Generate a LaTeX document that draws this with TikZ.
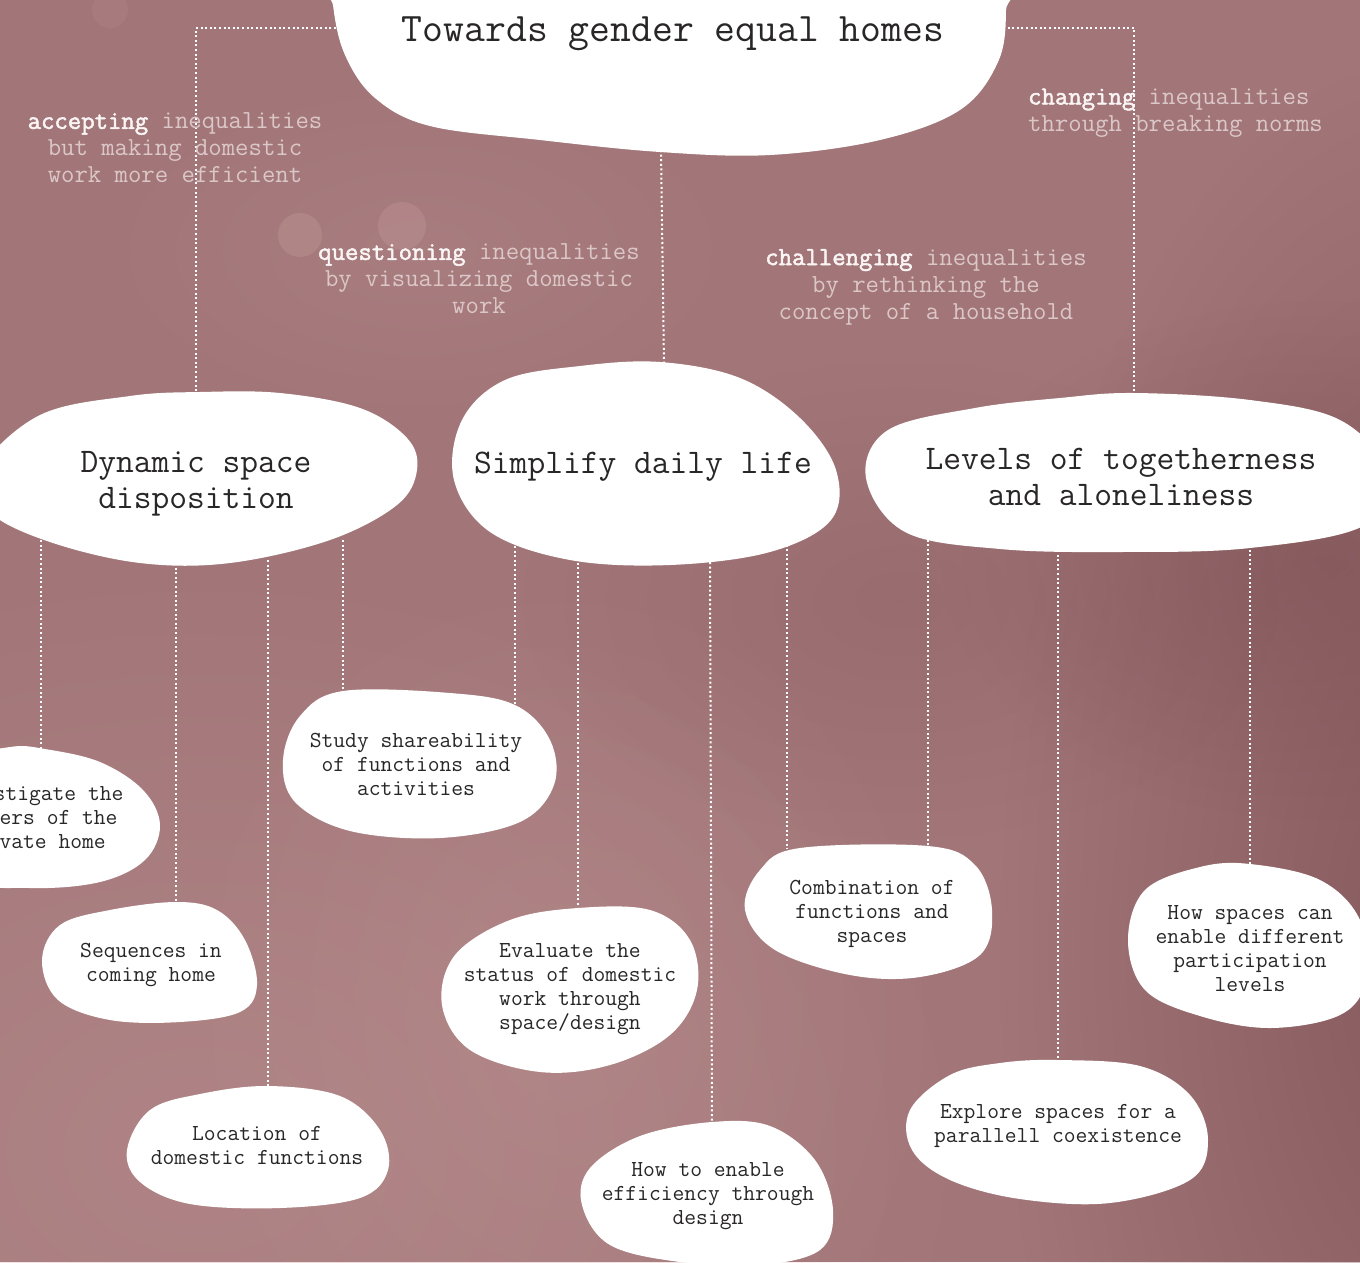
\documentclass[tikz,border=0pt]{standalone}
\usepackage{fontspec}
\setmainfont{Latin Modern Mono}
\newfontfamily\boldmono{Latin Modern Mono}[FakeBold=2]
\usetikzlibrary{fadings}
\tikzfading[name=softspot, inner color=transparent!0, outer color=transparent!100]
\definecolor{bg}{RGB}{162,118,120}
\definecolor{bglight}{RGB}{196,154,155}
\definecolor{bgdark}{RGB}{112,68,72}
\definecolor{ink}{RGB}{40,38,38}
\definecolor{subc}{RGB}{220,199,200}
\definecolor{subw}{RGB}{250,245,245}
\tikzset{
  blob/.style={fill=white, draw=none},
  conn/.style={white, line width=2pt, dash pattern=on 2pt off 2.6pt},
  bigtitle/.style={text=ink, align=center, inner sep=0pt, font=\fontsize{40.5}{44}\selectfont},
  title/.style={text=ink, align=center, inner sep=0pt, font=\fontsize{34.5}{36}\selectfont},
  small/.style={text=ink, align=center, inner sep=0pt, font=\fontsize{22.9}{24}\selectfont},
  sub/.style={text=subc, align=center, inner sep=0pt, font=\fontsize{26}{27}\selectfont},
  spot/.style={fill=#1, path fading=softspot, draw=none},
}
\newcommand{\firstword}[1]{{\color{subw}\boldmono #1}}
\begin{document}
\begin{tikzpicture}[x=1pt,y=-1pt]
\useasboundingbox (0,0) rectangle (1360,1262);
\clip (0,0) rectangle (1360,1262);
% background
\fill[bg] (0,0) rectangle (1360,1262);
\fill[spot=bglight, fill opacity=0.4] (200,1150) ellipse (800 and 600);
\fill[spot=bglight, fill opacity=0.3] (560,1020) ellipse (400 and 460);
\fill[spot=bgdark, fill opacity=0.55] (1440,950) ellipse (440 and 900);
\fill[spot=bgdark, fill opacity=0.35] (1320,560) ellipse (380 and 260);
\fill[spot=bgdark, fill opacity=0.18] (900,600) ellipse (380 and 240);
\fill[spot=bglight, fill opacity=0.2] (420,250) ellipse (340 and 180);
\fill[bglight, fill opacity=0.35] (300,235) circle (22);
\fill[bglight, fill opacity=0.35] (402,226) circle (24);
\fill[bglight, fill opacity=0.15] (110,10) circle (18);

% anchor coordinates
\coordinate (tL) at (336,28);
\coordinate (kL) at (196,28);
\coordinate (tR) at (1003,28);
\coordinate (kR) at (1134,28);
\coordinate (tB) at (661,150);
\coordinate (dynT) at (196,393);
\coordinate (simT) at (664,364);
\coordinate (levT) at (1134,395);
\coordinate (dynB1) at (41,540);
\coordinate (dynB2) at (176,563);
\coordinate (dynB3) at (268,560);
\coordinate (dynB4) at (343,540);
\coordinate (simB1) at (515,546);
\coordinate (simB2) at (578,558);
\coordinate (simB3) at (710,562);
\coordinate (simB4) at (787,540);
\coordinate (levB1) at (928,535);
\coordinate (levB2) at (1058,550);
\coordinate (levB3) at (1250,545);
\coordinate (invT) at (41,750);
\coordinate (seqT) at (176,905);
\coordinate (locT) at (268,1088);
\coordinate (stuT1) at (343,693);
\coordinate (stuT2) at (515,706);
\coordinate (evaT) at (578,910);
\coordinate (effT) at (712,1124);
\coordinate (comT1) at (787,849);
\coordinate (comT2) at (928,847);
\coordinate (expT) at (1058,1062);
\coordinate (parT) at (1250,866);

% connectors
\draw[conn] (tL) -- (kL) -- (dynT);
\draw[conn] (tR) -- (kR) -- (levT);
\draw[conn] (tB) -- (simT);
\draw[conn] (dynB1) -- (invT);
\draw[conn] (dynB2) -- (seqT);
\draw[conn] (dynB3) -- (locT);
\draw[conn] (dynB4) -- (stuT1);
\draw[conn] (simB1) -- (stuT2);
\draw[conn] (simB2) -- (evaT);
\draw[conn] (simB3) -- (effT);
\draw[conn] (simB4) -- (comT1);
\draw[conn] (levB1) -- (comT2);
\draw[conn] (levB2) -- (expT);
\draw[conn] (levB3) -- (parT);

% blobs
\fill[blob] plot[smooth cycle, tension=0.6] coordinates {(333,-40) (333,5) (345,55) (375,98) (430,126) (540,140) (660,152) (770,155) (880,140) (960,110) (998,62) (1006,10) (1000,-40) (670,-60)};
\fill[blob] plot[smooth cycle, tension=0.6] coordinates {(-20,470) (40,415) (130,396) (200,392) (280,393) (360,408) (407,438) (417,470) (397,505) (330,540) (230,563) (140,563) (50,542) (-10,512)};
\fill[blob] plot[smooth cycle, tension=0.6] coordinates {(660,362) (740,378) (800,418) (836,470) (831,520) (770,552) (670,565) (570,560) (490,532) (454,480) (462,420) (505,380) (580,366)};
\fill[blob] plot[smooth cycle, tension=0.6] coordinates {(1134,393) (1250,400) (1340,420) (1385,470) (1365,525) (1250,548) (1120,552) (1000,549) (905,532) (866,478) (888,430) (975,408) (1060,398)};
\fill[blob] plot[smooth cycle, tension=0.6] coordinates {(-70,810) (-40,762) (10,747) (45,749) (100,762) (143,790) (160,825) (145,860) (100,882) (30,888) (-40,878)};
\fill[blob] plot[smooth cycle, tension=0.6] coordinates {(176,902) (217,910) (245,940) (257,985) (240,1012) (180,1022) (110,1020) (58,1000) (42,960) (60,925) (110,910)};
\fill[blob] plot[smooth cycle, tension=0.6] coordinates {(268,1086) (340,1096) (380,1130) (388,1170) (360,1198) (280,1208) (190,1204) (140,1182) (127,1150) (150,1110) (200,1094)};
\fill[blob] plot[smooth cycle, tension=0.6] coordinates {(343,691) (450,693) (515,705) (550,740) (554,785) (520,822) (440,838) (350,831) (295,802) (283,760) (300,716)};
\fill[blob] plot[smooth cycle, tension=0.6] coordinates {(578,908) (650,910) (690,940) (697,990) (670,1035) (610,1065) (540,1072) (470,1050) (442,1005) (455,955) (510,920)};
\fill[blob] plot[smooth cycle, tension=0.6] coordinates {(712,1122) (770,1126) (815,1160) (833,1210) (820,1250) (760,1265) (680,1262) (610,1245) (582,1205) (590,1168) (640,1136)};
\fill[blob] plot[smooth cycle, tension=0.6] coordinates {(800,848) (928,846) (975,865) (992,910) (980,955) (920,977) (850,975) (775,950) (745,910) (760,870)};
\fill[blob] plot[smooth cycle, tension=0.6] coordinates {(1250,864) (1320,880) (1360,920) (1366,980) (1340,1015) (1270,1028) (1200,1016) (1145,990) (1128,940) (1145,890) (1200,867)};
\fill[blob] plot[smooth cycle, tension=0.6] coordinates {(1058,1060) (1140,1066) (1190,1095) (1208,1140) (1190,1180) (1110,1203) (1020,1199) (950,1180) (912,1150) (910,1110) (950,1075) (1000,1063)};

% texts
\node[bigtitle] (top) at (673,34) {Towards gender equal homes};
\node[title] (dyn) at (196,484) {Dynamic space\\disposition};
\node[title] (sim) at (643,467) {Simplify daily life};
\node[title] (lev) at (1121,477) {Levels of togetherness\\and aloneliness};
\node[small] (inv) at (35,820) {Investigate the\\borders of the\\private home};
\node[small] (seq) at (151,965) {Sequences in\\coming home};
\node[small] (loc) at (257,1145) {Location of\\domestic functions};
\node[small] (stu) at (416,764) {Study shareability\\of functions and\\activities};
\node[small] (eva) at (570,989) {Evaluate the\\status of domestic\\work through\\space/design};
\node[small] (eff) at (708,1196) {How to enable\\efficiency through\\design};
\node[small] (com) at (872,914) {Combination of\\functions and\\spaces};
\node[small] (par) at (1250,949) {How spaces can\\enable different\\participation\\levels};
\node[small] (exp) at (1058,1126) {Explore spaces for a\\parallell coexistence};

\node[sub] (s1) at (175,148) {\firstword{accepting} inequalities\\but making domestic\\work more efficient};
\node[sub] (s2) at (479,279) {\firstword{questioning} inequalities\\by visualizing domestic\\work};
\node[sub] (s3) at (926,287) {\firstword{challenging} inequalities\\by rethinking the\\concept of a household};
\node[sub, align=left, anchor=west] (s4) at (1028,113) {\firstword{changing} inequalities\\through breaking norms};
\end{tikzpicture}
\end{document}
